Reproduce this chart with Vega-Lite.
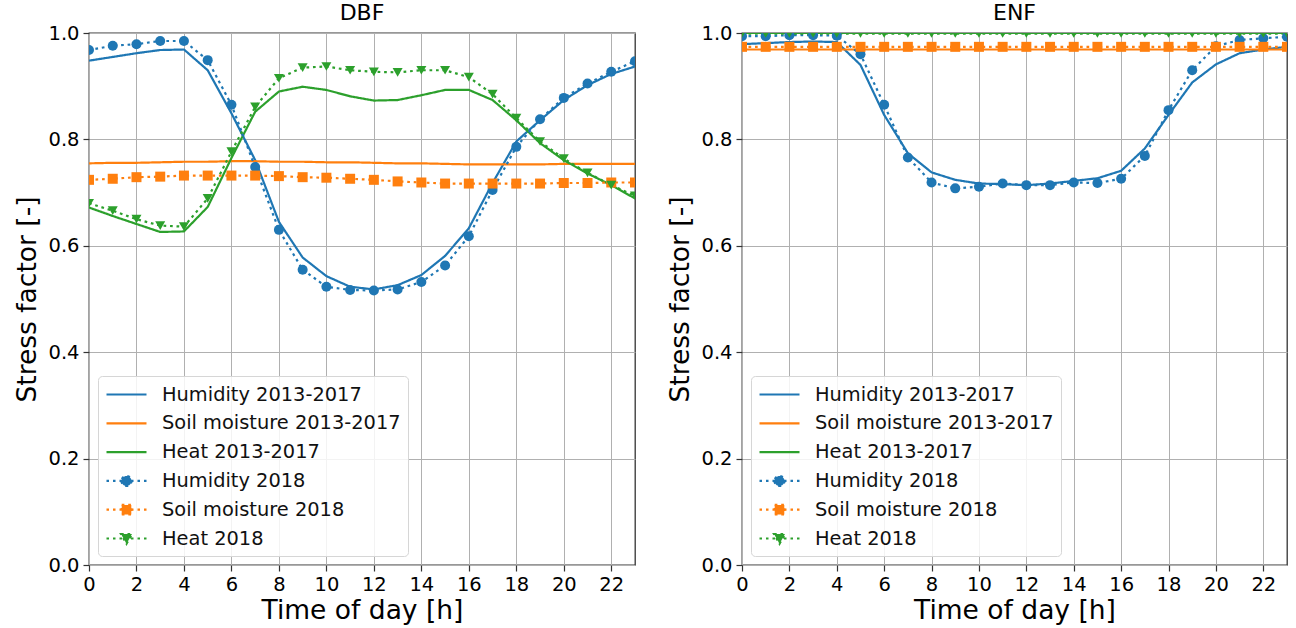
{
  "$schema": "https://vega.github.io/schema/vega-lite/v6.json",
  "background": "white",
  "padding": {"left": 14, "top": 1, "right": 5, "bottom": 0},
  "config": {
    "font": "DejaVu Sans",
    "view": {"stroke": "#333333", "strokeWidth": 1.3},
    "axis": {
      "labelFont": "DejaVu Sans", "labelFontSize": 19.5, "labelColor": "black",
      "titleFont": "DejaVu Sans", "titleFontSize": 26.5, "titleFontWeight": "normal", "titleColor": "black",
      "tickColor": "#333333", "tickSize": 6, "tickWidth": 1.2,
      "gridColor": "#b0b0b0", "gridWidth": 1, "domain": false, "labelPadding": 4,
      "labelFlush": false, "labelOverlap": false
    },
    "title": {"font": "DejaVu Sans", "fontSize": 20, "fontWeight": "normal", "color": "black"},
    "legend": {"labelFont": "DejaVu Sans", "labelFontSize": 19.4, "labelColor": "#111111", "labelLimit": 0}
  },
  "datasets": {
    "dbf": [
      {"hour": 0, "Humidity 2013-2017": 0.948, "Soil moisture 2013-2017": 0.755, "Heat 2013-2017": 0.672, "Humidity 2018": 0.968, "Soil moisture 2018": 0.724, "Heat 2018": 0.680},
      {"hour": 1, "Humidity 2013-2017": 0.955, "Soil moisture 2013-2017": 0.756, "Heat 2013-2017": 0.656, "Humidity 2018": 0.976, "Soil moisture 2018": 0.726, "Heat 2018": 0.666},
      {"hour": 2, "Humidity 2013-2017": 0.962, "Soil moisture 2013-2017": 0.756, "Heat 2013-2017": 0.641, "Humidity 2018": 0.979, "Soil moisture 2018": 0.729, "Heat 2018": 0.650},
      {"hour": 3, "Humidity 2013-2017": 0.968, "Soil moisture 2013-2017": 0.757, "Heat 2013-2017": 0.626, "Humidity 2018": 0.985, "Soil moisture 2018": 0.730, "Heat 2018": 0.638},
      {"hour": 4, "Humidity 2013-2017": 0.969, "Soil moisture 2013-2017": 0.758, "Heat 2013-2017": 0.627, "Humidity 2018": 0.985, "Soil moisture 2018": 0.732, "Heat 2018": 0.636},
      {"hour": 5, "Humidity 2013-2017": 0.930, "Soil moisture 2013-2017": 0.758, "Heat 2013-2017": 0.673, "Humidity 2018": 0.949, "Soil moisture 2018": 0.732, "Heat 2018": 0.689},
      {"hour": 6, "Humidity 2013-2017": 0.849, "Soil moisture 2013-2017": 0.759, "Heat 2013-2017": 0.765, "Humidity 2018": 0.865, "Soil moisture 2018": 0.732, "Heat 2018": 0.777},
      {"hour": 7, "Humidity 2013-2017": 0.761, "Soil moisture 2013-2017": 0.759, "Heat 2013-2017": 0.852, "Humidity 2018": 0.748, "Soil moisture 2018": 0.732, "Heat 2018": 0.861},
      {"hour": 8, "Humidity 2013-2017": 0.645, "Soil moisture 2013-2017": 0.758, "Heat 2013-2017": 0.890, "Humidity 2018": 0.630, "Soil moisture 2018": 0.731, "Heat 2018": 0.915},
      {"hour": 9, "Humidity 2013-2017": 0.578, "Soil moisture 2013-2017": 0.758, "Heat 2013-2017": 0.899, "Humidity 2018": 0.555, "Soil moisture 2018": 0.729, "Heat 2018": 0.935},
      {"hour": 10, "Humidity 2013-2017": 0.543, "Soil moisture 2013-2017": 0.757, "Heat 2013-2017": 0.893, "Humidity 2018": 0.523, "Soil moisture 2018": 0.728, "Heat 2018": 0.937},
      {"hour": 11, "Humidity 2013-2017": 0.523, "Soil moisture 2013-2017": 0.757, "Heat 2013-2017": 0.881, "Humidity 2018": 0.517, "Soil moisture 2018": 0.726, "Heat 2018": 0.930},
      {"hour": 12, "Humidity 2013-2017": 0.518, "Soil moisture 2013-2017": 0.756, "Heat 2013-2017": 0.873, "Humidity 2018": 0.516, "Soil moisture 2018": 0.724, "Heat 2018": 0.927},
      {"hour": 13, "Humidity 2013-2017": 0.526, "Soil moisture 2013-2017": 0.755, "Heat 2013-2017": 0.874, "Humidity 2018": 0.518, "Soil moisture 2018": 0.721, "Heat 2018": 0.926},
      {"hour": 14, "Humidity 2013-2017": 0.545, "Soil moisture 2013-2017": 0.755, "Heat 2013-2017": 0.883, "Humidity 2018": 0.532, "Soil moisture 2018": 0.719, "Heat 2018": 0.930},
      {"hour": 15, "Humidity 2013-2017": 0.581, "Soil moisture 2013-2017": 0.754, "Heat 2013-2017": 0.893, "Humidity 2018": 0.563, "Soil moisture 2018": 0.717, "Heat 2018": 0.930},
      {"hour": 16, "Humidity 2013-2017": 0.633, "Soil moisture 2013-2017": 0.753, "Heat 2013-2017": 0.893, "Humidity 2018": 0.618, "Soil moisture 2018": 0.717, "Heat 2018": 0.917},
      {"hour": 17, "Humidity 2013-2017": 0.718, "Soil moisture 2013-2017": 0.753, "Heat 2013-2017": 0.874, "Humidity 2018": 0.705, "Soil moisture 2018": 0.717, "Heat 2018": 0.885},
      {"hour": 18, "Humidity 2013-2017": 0.796, "Soil moisture 2013-2017": 0.753, "Heat 2013-2017": 0.836, "Humidity 2018": 0.786, "Soil moisture 2018": 0.717, "Heat 2018": 0.840},
      {"hour": 19, "Humidity 2013-2017": 0.836, "Soil moisture 2013-2017": 0.753, "Heat 2013-2017": 0.793, "Humidity 2018": 0.838, "Soil moisture 2018": 0.717, "Heat 2018": 0.796},
      {"hour": 20, "Humidity 2013-2017": 0.874, "Soil moisture 2013-2017": 0.754, "Heat 2013-2017": 0.761, "Humidity 2018": 0.878, "Soil moisture 2018": 0.718, "Heat 2018": 0.764},
      {"hour": 21, "Humidity 2013-2017": 0.902, "Soil moisture 2013-2017": 0.754, "Heat 2013-2017": 0.736, "Humidity 2018": 0.905, "Soil moisture 2018": 0.718, "Heat 2018": 0.737},
      {"hour": 22, "Humidity 2013-2017": 0.923, "Soil moisture 2013-2017": 0.754, "Heat 2013-2017": 0.714, "Humidity 2018": 0.927, "Soil moisture 2018": 0.719, "Heat 2018": 0.714},
      {"hour": 23, "Humidity 2013-2017": 0.937, "Soil moisture 2013-2017": 0.754, "Heat 2013-2017": 0.689, "Humidity 2018": 0.947, "Soil moisture 2018": 0.719, "Heat 2018": 0.694}
    ],
    "enf": [
      {"hour": 0, "Humidity 2013-2017": 0.979, "Soil moisture 2013-2017": 0.969, "Heat 2013-2017": 1.0, "Humidity 2018": 0.994, "Soil moisture 2018": 0.974, "Heat 2018": 0.999},
      {"hour": 1, "Humidity 2013-2017": 0.981, "Soil moisture 2013-2017": 0.969, "Heat 2013-2017": 1.0, "Humidity 2018": 0.994, "Soil moisture 2018": 0.974, "Heat 2018": 0.999},
      {"hour": 2, "Humidity 2013-2017": 0.983, "Soil moisture 2013-2017": 0.969, "Heat 2013-2017": 1.0, "Humidity 2018": 0.996, "Soil moisture 2018": 0.974, "Heat 2018": 0.999},
      {"hour": 3, "Humidity 2013-2017": 0.984, "Soil moisture 2013-2017": 0.969, "Heat 2013-2017": 1.0, "Humidity 2018": 0.996, "Soil moisture 2018": 0.974, "Heat 2018": 0.999},
      {"hour": 4, "Humidity 2013-2017": 0.983, "Soil moisture 2013-2017": 0.969, "Heat 2013-2017": 1.0, "Humidity 2018": 0.995, "Soil moisture 2018": 0.974, "Heat 2018": 0.999},
      {"hour": 5, "Humidity 2013-2017": 0.940, "Soil moisture 2013-2017": 0.969, "Heat 2013-2017": 1.0, "Humidity 2018": 0.960, "Soil moisture 2018": 0.974, "Heat 2018": 0.999},
      {"hour": 6, "Humidity 2013-2017": 0.846, "Soil moisture 2013-2017": 0.969, "Heat 2013-2017": 1.0, "Humidity 2018": 0.865, "Soil moisture 2018": 0.974, "Heat 2018": 0.999},
      {"hour": 7, "Humidity 2013-2017": 0.774, "Soil moisture 2013-2017": 0.969, "Heat 2013-2017": 1.0, "Humidity 2018": 0.766, "Soil moisture 2018": 0.974, "Heat 2018": 0.999},
      {"hour": 8, "Humidity 2013-2017": 0.738, "Soil moisture 2013-2017": 0.969, "Heat 2013-2017": 1.0, "Humidity 2018": 0.719, "Soil moisture 2018": 0.974, "Heat 2018": 0.999},
      {"hour": 9, "Humidity 2013-2017": 0.724, "Soil moisture 2013-2017": 0.969, "Heat 2013-2017": 1.0, "Humidity 2018": 0.708, "Soil moisture 2018": 0.974, "Heat 2018": 0.999},
      {"hour": 10, "Humidity 2013-2017": 0.717, "Soil moisture 2013-2017": 0.969, "Heat 2013-2017": 1.0, "Humidity 2018": 0.711, "Soil moisture 2018": 0.974, "Heat 2018": 0.999},
      {"hour": 11, "Humidity 2013-2017": 0.716, "Soil moisture 2013-2017": 0.969, "Heat 2013-2017": 1.0, "Humidity 2018": 0.717, "Soil moisture 2018": 0.974, "Heat 2018": 0.999},
      {"hour": 12, "Humidity 2013-2017": 0.714, "Soil moisture 2013-2017": 0.969, "Heat 2013-2017": 1.0, "Humidity 2018": 0.714, "Soil moisture 2018": 0.974, "Heat 2018": 0.999},
      {"hour": 13, "Humidity 2013-2017": 0.717, "Soil moisture 2013-2017": 0.969, "Heat 2013-2017": 1.0, "Humidity 2018": 0.714, "Soil moisture 2018": 0.974, "Heat 2018": 0.999},
      {"hour": 14, "Humidity 2013-2017": 0.722, "Soil moisture 2013-2017": 0.969, "Heat 2013-2017": 1.0, "Humidity 2018": 0.719, "Soil moisture 2018": 0.974, "Heat 2018": 0.999},
      {"hour": 15, "Humidity 2013-2017": 0.727, "Soil moisture 2013-2017": 0.969, "Heat 2013-2017": 1.0, "Humidity 2018": 0.718, "Soil moisture 2018": 0.974, "Heat 2018": 0.999},
      {"hour": 16, "Humidity 2013-2017": 0.741, "Soil moisture 2013-2017": 0.969, "Heat 2013-2017": 1.0, "Humidity 2018": 0.726, "Soil moisture 2018": 0.974, "Heat 2018": 0.999},
      {"hour": 17, "Humidity 2013-2017": 0.783, "Soil moisture 2013-2017": 0.969, "Heat 2013-2017": 1.0, "Humidity 2018": 0.769, "Soil moisture 2018": 0.974, "Heat 2018": 0.999},
      {"hour": 18, "Humidity 2013-2017": 0.846, "Soil moisture 2013-2017": 0.969, "Heat 2013-2017": 1.0, "Humidity 2018": 0.855, "Soil moisture 2018": 0.974, "Heat 2018": 0.999},
      {"hour": 19, "Humidity 2013-2017": 0.907, "Soil moisture 2013-2017": 0.969, "Heat 2013-2017": 1.0, "Humidity 2018": 0.930, "Soil moisture 2018": 0.974, "Heat 2018": 0.999},
      {"hour": 20, "Humidity 2013-2017": 0.941, "Soil moisture 2013-2017": 0.969, "Heat 2013-2017": 1.0, "Humidity 2018": 0.975, "Soil moisture 2018": 0.974, "Heat 2018": 0.999},
      {"hour": 21, "Humidity 2013-2017": 0.962, "Soil moisture 2013-2017": 0.969, "Heat 2013-2017": 1.0, "Humidity 2018": 0.987, "Soil moisture 2018": 0.974, "Heat 2018": 0.999},
      {"hour": 22, "Humidity 2013-2017": 0.969, "Soil moisture 2013-2017": 0.969, "Heat 2013-2017": 1.0, "Humidity 2018": 0.990, "Soil moisture 2018": 0.974, "Heat 2018": 0.999},
      {"hour": 23, "Humidity 2013-2017": 0.974, "Soil moisture 2013-2017": 0.969, "Heat 2013-2017": 1.0, "Humidity 2018": 0.993, "Soil moisture 2018": 0.974, "Heat 2018": 0.999}
    ]
  },
  "bounds": "flush",
  "spacing": 107,
  "resolve": {
    "scale": {"color": "independent", "strokeDash": "independent", "shape": "independent"},
    "legend": {"color": "independent", "strokeDash": "independent", "shape": "independent"}
  },
  "hconcat": [
    {
      "width": 546, "height": 532,
      "title": {"text": "DBF", "font": "DejaVu Sans", "fontSize": 22, "fontWeight": "normal", "offset": -2},
      "data": {"name": "dbf"},
      "transform": [{"fold": ["Humidity 2013-2017", "Soil moisture 2013-2017", "Heat 2013-2017", "Humidity 2018", "Soil moisture 2018", "Heat 2018"], "as": ["series", "value"]}],
      "encoding": {
        "x": {"field": "hour", "type": "quantitative", "scale": {"domain": [0, 23], "nice": false, "zero": false},
              "axis": {"values": [0, 2, 4, 6, 8, 10, 12, 14, 16, 18, 20, 22], "title": "Time of day [h]", "titlePadding": 4}},
        "y": {"field": "value", "type": "quantitative", "scale": {"domain": [0, 1], "nice": false},
              "axis": {"values": [0, 0.2, 0.4, 0.6, 0.8, 1.0], "format": ".1f", "title": "Stress factor [-]", "titlePadding": 6}}
      },
      "layer": [
        {
          "mark": {"type": "line", "clip": true, "strokeWidth": 2.2, "strokeCap": "butt"},
          "encoding": {
            "color": {"field": "series", "type": "nominal",
              "scale": {"domain": ["Humidity 2013-2017", "Soil moisture 2013-2017", "Heat 2013-2017", "Humidity 2018", "Soil moisture 2018", "Heat 2018"],
                        "range": ["#1f77b4", "#ff7f0e", "#2ca02c", "#1f77b4", "#ff7f0e", "#2ca02c"]},
              "legend": {
                "title": null, "orient": "none", "legendX": 9, "legendY": 343,
                "direction": "vertical", "columns": 1,
                "padding": 7, "rowPadding": 7.8, "labelOffset": 34, "labelLimit": 0, "labelFontSize": 19.4,
                "fillColor": "rgba(255,255,255,0.85)", "strokeColor": "#d6d6d6", "cornerRadius": 4,
                "symbolStrokeWidth": 2.2, "symbolSize": 400,
                "encode": {"symbols": {"update": {
                  "shape": {"signal": "datum.value == 'Humidity 2018' ? 'M-1,0H-0.75M-0.35,0H-0.1M0.3,0H0.55M1.45,0H1.7M2.1,0H2.35M2.75,0H3M0.5,0A0.5,0.5 0 1,0 1.5,0A0.5,0.5 0 1,0 0.5,0Z' : datum.value == 'Soil moisture 2018' ? 'M-1,0H-0.75M-0.35,0H-0.1M0.3,0H0.55M1.45,0H1.7M2.1,0H2.35M2.75,0H3M0.52,-0.48H1.48V0.48H0.52Z' : datum.value == 'Heat 2018' ? 'M-1,0H-0.75M-0.35,0H-0.1M0.3,0H0.55M1.45,0H1.7M2.1,0H2.35M2.75,0H3M0.45,-0.45H1.55L1,0.52Z' : 'M-1,0H3'"},
                  "strokeDash": {"value": [1, 0]},
                  "fill": {"signal": "indexof(datum.value, '2018') < 0 ? 'transparent' : indexof(datum.value, 'Humidity') >= 0 ? '#1f77b4' : indexof(datum.value, 'Soil') >= 0 ? '#ff7f0e' : '#2ca02c'"},
                  "fillOpacity": {"value": 1},
                  "size": {"value": 400}
                }}}
              }},
            "strokeDash": {"field": "series", "type": "nominal",
              "scale": {"domain": ["Humidity 2013-2017", "Soil moisture 2013-2017", "Heat 2013-2017", "Humidity 2018", "Soil moisture 2018", "Heat 2018"],
                        "range": [[1, 0], [1, 0], [1, 0], [2.7, 3.8], [2.7, 3.8], [2.7, 3.8]]},
              "legend": null}
          }
        },
        {
          "transform": [{"filter": {"field": "series", "oneOf": ["Humidity 2018", "Soil moisture 2018", "Heat 2018"]}}],
          "mark": {"type": "point", "filled": true, "opacity": 1, "clip": true, "size": 100},
          "encoding": {
            "color": {"field": "series", "type": "nominal", "legend": null},
            "shape": {"field": "series", "type": "nominal",
              "scale": {"domain": ["Humidity 2018", "Soil moisture 2018", "Heat 2018"], "range": ["circle", "square", "triangle-down"]},
              "legend": null}
          }
        }
      ]
    },
    {
      "width": 545, "height": 532,
      "title": {"text": "ENF", "font": "DejaVu Sans", "fontSize": 22, "fontWeight": "normal", "offset": -2},
      "data": {"name": "enf"},
      "transform": [{"fold": ["Humidity 2013-2017", "Soil moisture 2013-2017", "Heat 2013-2017", "Humidity 2018", "Soil moisture 2018", "Heat 2018"], "as": ["series", "value"]}],
      "encoding": {
        "x": {"field": "hour", "type": "quantitative", "scale": {"domain": [0, 23], "nice": false, "zero": false},
              "axis": {"values": [0, 2, 4, 6, 8, 10, 12, 14, 16, 18, 20, 22], "title": "Time of day [h]", "titlePadding": 4}},
        "y": {"field": "value", "type": "quantitative", "scale": {"domain": [0, 1], "nice": false},
              "axis": {"values": [0, 0.2, 0.4, 0.6, 0.8, 1.0], "format": ".1f", "title": "Stress factor [-]", "titlePadding": 6}}
      },
      "layer": [
        {
          "mark": {"type": "line", "clip": true, "strokeWidth": 2.2, "strokeCap": "butt"},
          "encoding": {
            "color": {"field": "series", "type": "nominal",
              "scale": {"domain": ["Humidity 2013-2017", "Soil moisture 2013-2017", "Heat 2013-2017", "Humidity 2018", "Soil moisture 2018", "Heat 2018"],
                        "range": ["#1f77b4", "#ff7f0e", "#2ca02c", "#1f77b4", "#ff7f0e", "#2ca02c"]},
              "legend": {
                "title": null, "orient": "none", "legendX": 9, "legendY": 343,
                "direction": "vertical", "columns": 1,
                "padding": 7, "rowPadding": 7.8, "labelOffset": 34, "labelLimit": 0, "labelFontSize": 19.4,
                "fillColor": "rgba(255,255,255,0.85)", "strokeColor": "#d6d6d6", "cornerRadius": 4,
                "symbolStrokeWidth": 2.2, "symbolSize": 400,
                "encode": {"symbols": {"update": {
                  "shape": {"signal": "datum.value == 'Humidity 2018' ? 'M-1,0H-0.75M-0.35,0H-0.1M0.3,0H0.55M1.45,0H1.7M2.1,0H2.35M2.75,0H3M0.5,0A0.5,0.5 0 1,0 1.5,0A0.5,0.5 0 1,0 0.5,0Z' : datum.value == 'Soil moisture 2018' ? 'M-1,0H-0.75M-0.35,0H-0.1M0.3,0H0.55M1.45,0H1.7M2.1,0H2.35M2.75,0H3M0.52,-0.48H1.48V0.48H0.52Z' : datum.value == 'Heat 2018' ? 'M-1,0H-0.75M-0.35,0H-0.1M0.3,0H0.55M1.45,0H1.7M2.1,0H2.35M2.75,0H3M0.45,-0.45H1.55L1,0.52Z' : 'M-1,0H3'"},
                  "strokeDash": {"value": [1, 0]},
                  "fill": {"signal": "indexof(datum.value, '2018') < 0 ? 'transparent' : indexof(datum.value, 'Humidity') >= 0 ? '#1f77b4' : indexof(datum.value, 'Soil') >= 0 ? '#ff7f0e' : '#2ca02c'"},
                  "fillOpacity": {"value": 1},
                  "size": {"value": 400}
                }}}
              }},
            "strokeDash": {"field": "series", "type": "nominal",
              "scale": {"domain": ["Humidity 2013-2017", "Soil moisture 2013-2017", "Heat 2013-2017", "Humidity 2018", "Soil moisture 2018", "Heat 2018"],
                        "range": [[1, 0], [1, 0], [1, 0], [2.7, 3.8], [2.7, 3.8], [2.7, 3.8]]},
              "legend": null}
          }
        },
        {
          "transform": [{"filter": {"field": "series", "oneOf": ["Humidity 2018", "Soil moisture 2018", "Heat 2018"]}}],
          "mark": {"type": "point", "filled": true, "opacity": 1, "clip": true, "size": 100},
          "encoding": {
            "color": {"field": "series", "type": "nominal", "legend": null},
            "shape": {"field": "series", "type": "nominal",
              "scale": {"domain": ["Humidity 2018", "Soil moisture 2018", "Heat 2018"], "range": ["circle", "square", "triangle-down"]},
              "legend": null}
          }
        }
      ]
    }
  ]
}
